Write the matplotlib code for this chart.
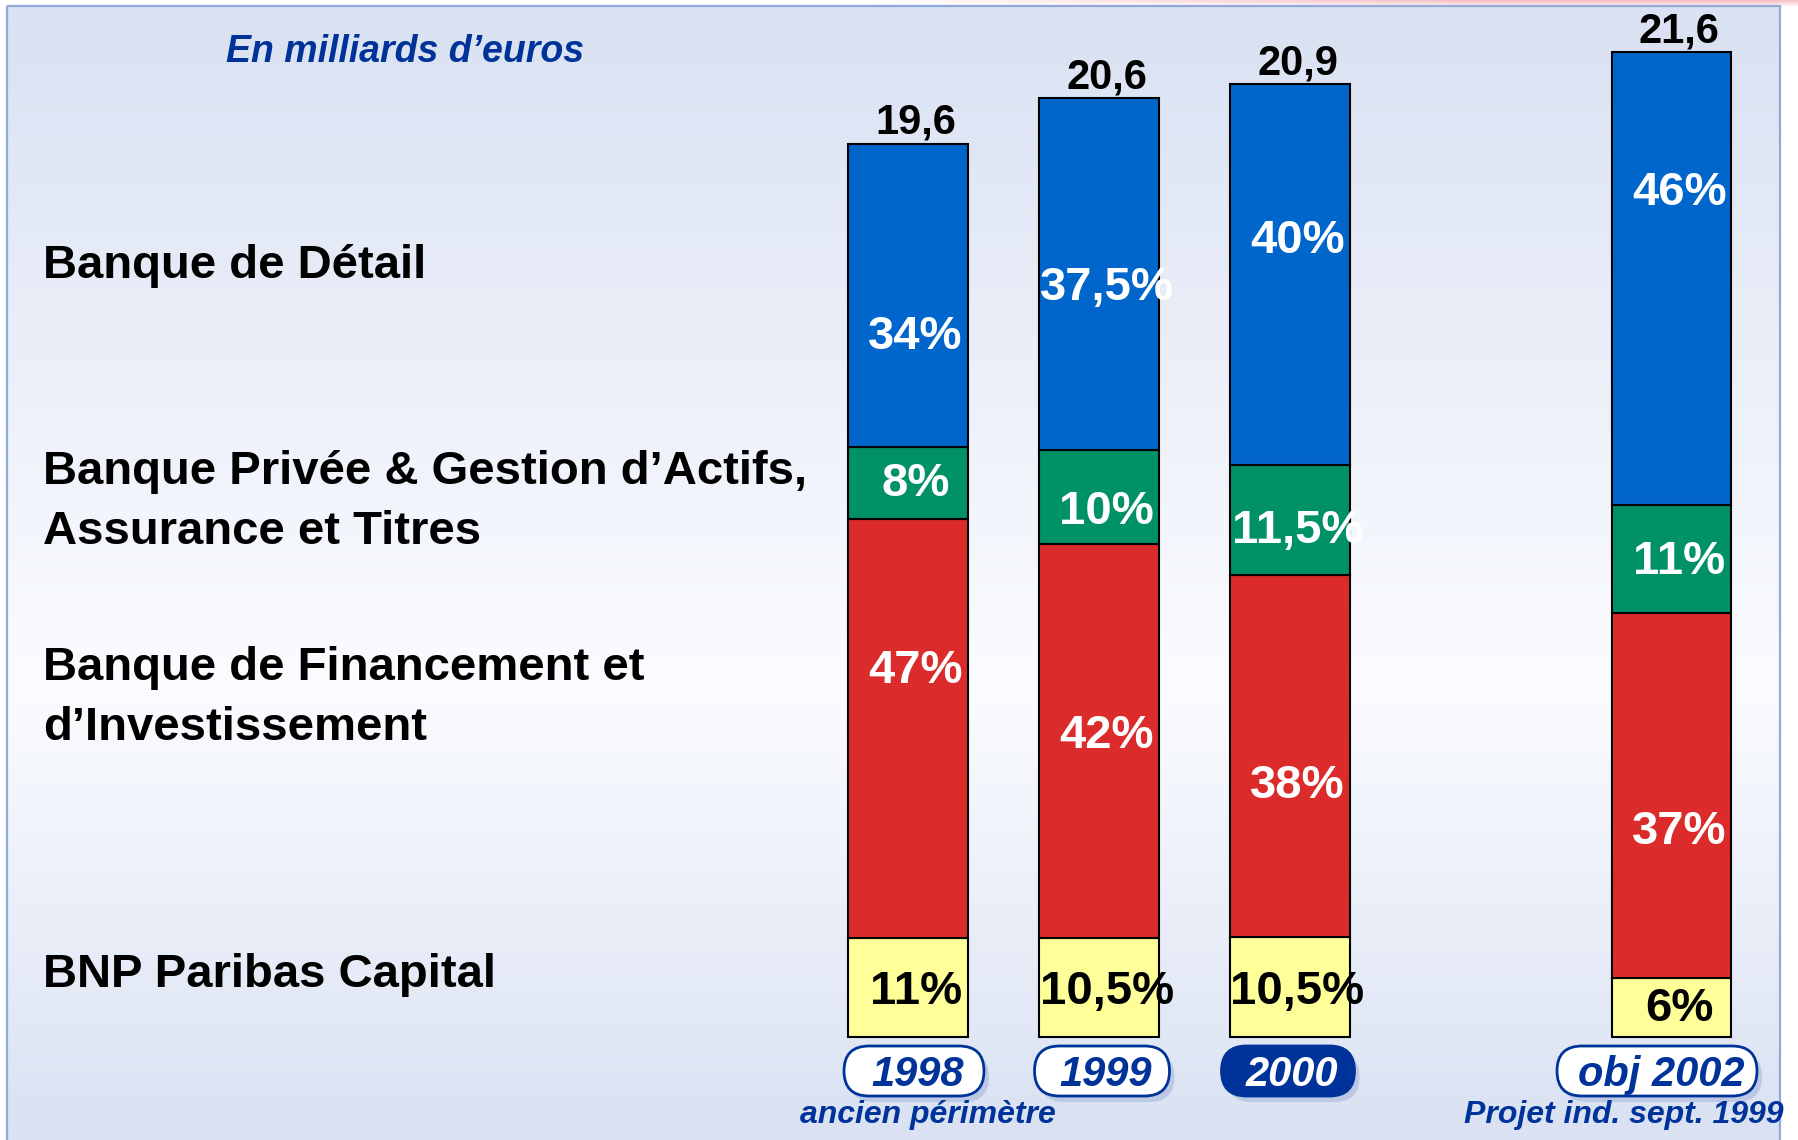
import numpy as np
import matplotlib
matplotlib.use("Agg")
import matplotlib.pyplot as plt
from matplotlib.patches import FancyBboxPatch, Rectangle

plt.rcParams['font.family'] = ['Liberation Sans', 'DejaVu Sans']

# === Données (en milliards d'euros) ===
annees = ["1998", "1999", "2000", "obj 2002"]
x_pos = [0, 1, 2, 4]
totaux = [19.6, 20.6, 20.9, 21.6]
totaux_txt = ["19,6", "20,6", "20,9", "21,6"]

# parts en % (du bas vers le haut)
pct_capital = [11, 10.5, 10.5, 6]
pct_bfi = [47, 42, 38, 37]
pct_bpgaat = [8, 10, 11.5, 11]
pct_detail = [34, 37.5, 40, 46]

txt_capital = ["11%", "10,5%", "10,5%", "6%"]
txt_bfi = ["47%", "42%", "38%", "37%"]
txt_bpgaat = ["8%", "10%", "11,5%", "11%"]
txt_detail = ["34%", "37,5%", "40%", "46%"]

# hauteur des étiquettes (en milliards, posées à la main comme sur la diapo)
lab_capital = [1.06, 1.06, 1.06, 0.68]
lab_bfi = [8.10, 6.67, 5.59, 4.58]
lab_bpgaat = [12.21, 11.60, 11.18, 10.50]
lab_detail = [15.43, 16.51, 17.54, 18.60]

metiers = ["Banque de Détail",
           "Banque Privée & Gestion d\u2019Actifs,\nAssurance et Titres",
           "Banque de Financement et\nd\u2019Investissement",
           "BNP Paribas Capital"]
metiers_y = [266, 502, 698, 975]  # pixels depuis le haut

sous_titres = ["ancien périmètre", "Projet ind. sept. 1999"]

# === Couleurs ===
BLEU = "#0066CC"
VERT = "#009166"
ROUGE = "#DC2B2B"
JAUNE = "#FFFF99"
BLEU_FONCE = "#003399"

W, H = 1798, 1140
fig = plt.figure(figsize=(W / 100, H / 100), dpi=100)

# --- fond (coordonnées pixels) ---
bg = fig.add_axes([0, 0, 1, 1], zorder=0)
bg.set_xlim(0, W)
bg.set_ylim(H, 0)
bg.axis("off")

fy = np.linspace(0, 1, 300)
stops = [0.0, 0.6, 1.0]
cr = np.interp(fy, stops, [217, 251, 217])
cg = np.interp(fy, stops, [225, 252, 225])
cb = np.interp(fy, stops, [242, 255, 242])
grad = np.stack([cr, cg, cb], axis=1)[:, None, :] / 255.0
bg.imshow(grad, extent=[7, 1780, H, 6], aspect="auto", zorder=0)
bg.add_patch(Rectangle((7, 6), 1773, H, fill=False, edgecolor="#8FAADC", lw=1.6, zorder=1))

# petite bande rose en haut à droite
band = np.zeros((8, 200, 4))
band[..., 0] = 0.93
band[..., 1] = 0.55
band[..., 2] = 0.58
alpha_x = np.clip(np.linspace(0, 1.6, 200), 0, 1) * 0.55
alpha_y = np.linspace(1, 0.2, 8)
band[..., 3] = alpha_y[:, None] * alpha_x[None, :]
bg.imshow(band, extent=[850, W, 6, 0], aspect="auto", zorder=2)

# --- barres empilées ---
ax = fig.add_axes([0, 0, 1, 1], zorder=1)
ax.patch.set_alpha(0)
ax.set_xlim(-4.757, 4.662)
ax.set_ylim(-2.27, 22.75)
ax.axis("off")

tot = np.array(totaux)
v_cap = tot * np.array(pct_capital) / 100
v_bfi = tot * np.array(pct_bfi) / 100
v_bpg = tot * np.array(pct_bpgaat) / 100
v_det = tot * np.array(pct_detail) / 100

larg = 0.625
kw = dict(width=larg, edgecolor="black", linewidth=1.5)
ax.bar(x_pos, v_cap, color=JAUNE, **kw)
ax.bar(x_pos, v_bfi, bottom=v_cap, color=ROUGE, **kw)
ax.bar(x_pos, v_bpg, bottom=v_cap + v_bfi, color=VERT, **kw)
ax.bar(x_pos, v_det, bottom=v_cap + v_bfi + v_bpg, color=BLEU, **kw)

dx, dy = 0.04, -0.08
pkw = dict(ha="center", va="center", fontsize=34, fontweight="bold")
for i, x in enumerate(x_pos):
    ax.text(x + dx, lab_capital[i] + dy, txt_capital[i], color="black", **pkw)
    ax.text(x + dx, lab_bfi[i] + dy, txt_bfi[i], color="white", **pkw)
    ax.text(x + dx, lab_bpgaat[i] + dy, txt_bpgaat[i], color="white", **pkw)
    ax.text(x + dx, lab_detail[i] + dy, txt_detail[i], color="white", **pkw)
    ax.annotate(totaux_txt[i], (x + dx, totaux[i]), xytext=(0, 15), textcoords="offset points",
                ha="center", va="center", fontsize=30, fontweight="bold", color="black")

# --- textes de gauche ---
bg.text(226, 52, "En milliards d\u2019euros", ha="left", va="center", fontsize=27,
        fontweight="bold", fontstyle="italic", color=BLEU_FONCE, zorder=3)
for lab, y in zip(metiers, metiers_y):
    bg.text(43, y, lab, ha="left", va="center", fontsize=34, fontweight="bold",
            color="black", linespacing=1.45, zorder=3)

# --- étiquettes des années (pilules) ---
pil_cx = [914, 1102, 1288, 1657]
pil_w = [140, 135, 133, 200]
pil_cy, pil_h = 1071, 50
for i, an in enumerate(annees):
    plein = an == "2000"
    x0 = pil_cx[i] - pil_w[i] / 2
    y0 = pil_cy - pil_h / 2
    bg.add_patch(FancyBboxPatch((x0 + 5, y0 + 6), pil_w[i], pil_h,
                                boxstyle="round,pad=0,rounding_size=25",
                                facecolor="#BCC8E4", edgecolor="none", zorder=3))
    bg.add_patch(FancyBboxPatch((x0, y0), pil_w[i], pil_h,
                                boxstyle="round,pad=0,rounding_size=25",
                                facecolor=BLEU_FONCE if plein else "white",
                                edgecolor=BLEU_FONCE, lw=2, zorder=4))
    bg.text(pil_cx[i] + 4, pil_cy + 4, an, ha="center", va="center", fontsize=30,
            fontweight="bold", fontstyle="italic",
            color="white" if plein else BLEU_FONCE, zorder=5)

bg.text(928, 1115, sous_titres[0], ha="center", va="center", fontsize=23,
        fontweight="bold", fontstyle="italic", color=BLEU_FONCE, zorder=5)
bg.text(1624, 1115, sous_titres[1], ha="center", va="center", fontsize=23,
        fontweight="bold", fontstyle="italic", color=BLEU_FONCE, zorder=5)

fig.savefig("out.png", dpi=100, facecolor="white")
